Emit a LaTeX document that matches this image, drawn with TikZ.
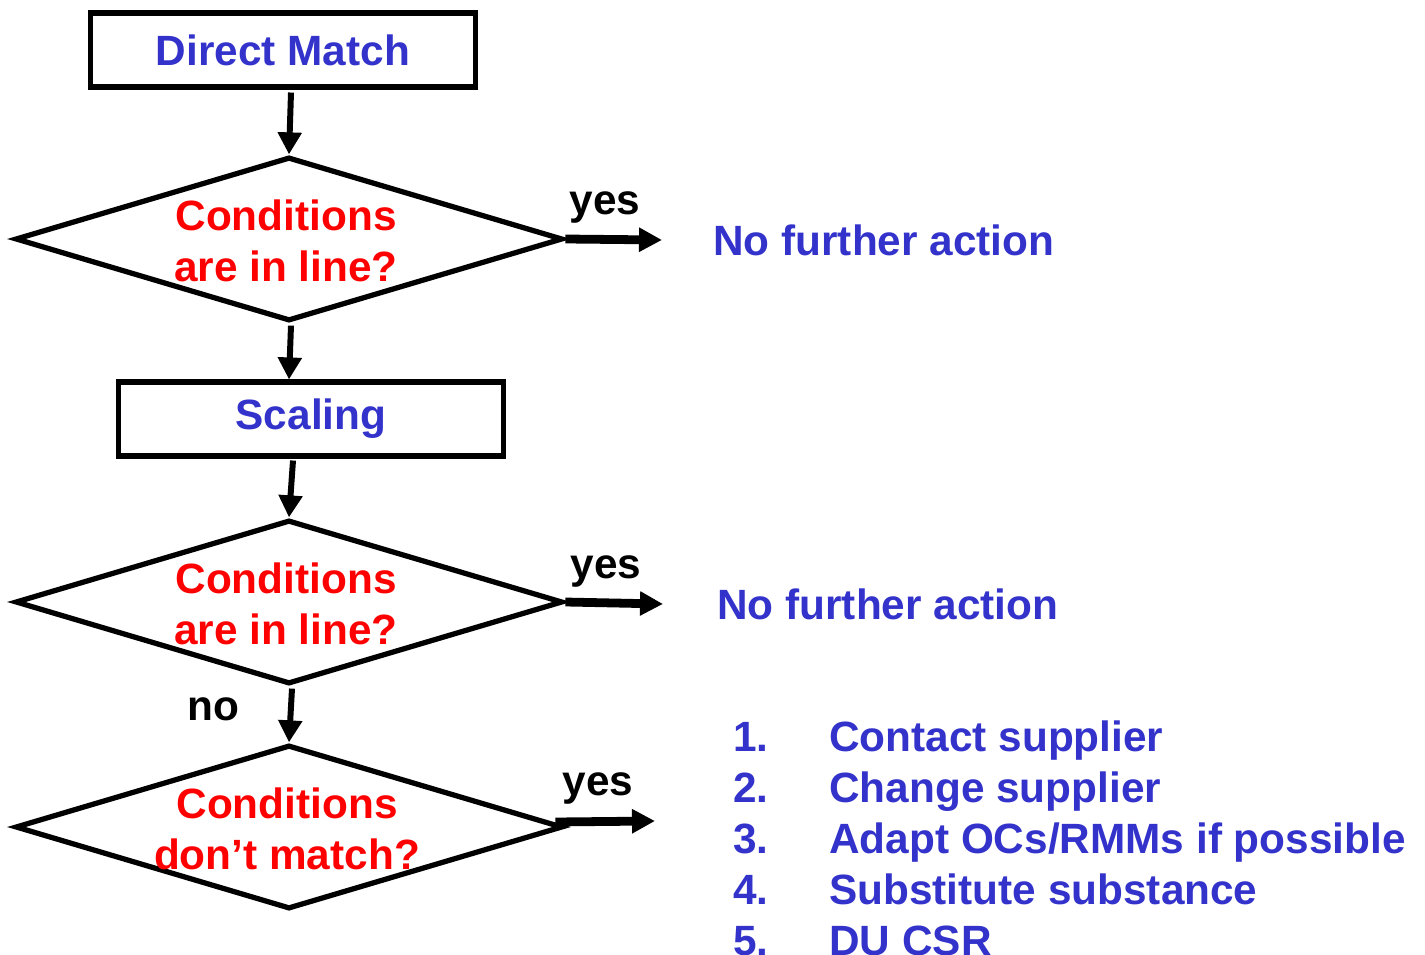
\documentclass[tikz,border=0pt]{standalone}
\usepackage{fontspec}
\setmainfont{Liberation Sans}
\usetikzlibrary{shapes.geometric,arrows.meta,calc}
\definecolor{stepblue}{RGB}{51,51,204}
\definecolor{condred}{RGB}{255,0,0}

\begin{document}
\begin{tikzpicture}[x=0.02cm,y=-0.02cm,
  every node/.style={font=\fontsize{24.1}{28.9}\selectfont\bfseries,inner sep=0pt},
  procbox/.style={draw,line width=2.9pt,minimum width=7.7cm,minimum height=1.48cm,text=stepblue},
  decision/.style={draw,diamond,line width=3pt,minimum width=10.95cm,minimum height=3.28cm},
  condtext/.style={align=center,text=condred},
  answer/.style={anchor=base,text=black},
  action/.style={anchor=base west,text=stepblue},
  downarrow/.style={line width=3.4pt,-{Triangle[length=0.44cm,width=0.46cm]}},
  rightarrow/.style={line width=5pt,-{Triangle[length=0.46cm,width=0.46cm]}}]
\useasboundingbox (0,0) rectangle (1425,955);

% flow
\node[procbox] (box1) at (283,50) {Direct Match};
\node[decision] (d1) at (289,239) {};
\node[condtext] (c1) at (286,241) {Conditions\\are in line?};
\node[procbox] (box2) at (311,419) {Scaling};
\node[decision] (d2) at (289,602) {};
\node[condtext] (c2) at (286,604) {Conditions\\are in line?};
\node[decision] (d3) at (289,827) {};
\node[condtext] (c3) at (287,829) {Conditions\\don’t match?};

\draw[downarrow] ($(box1.south)+(8,3)$) -- (d1.north);
\draw[downarrow] ($(d1.south)+(2,2)$) -- ($(box2.north)+(-22,0)$);
\draw[downarrow] ($(box2.south)+(-18,2)$) -- (d2.north);
\draw[downarrow] ($(d2.south)+(3,2)$) -- (d3.north);
\node[answer] (no1) at (213,720) {no};

% yes branches
\coordinate (yes1end) at (662,240);
\coordinate (yes2end) at (663,604);
\coordinate (yes3end) at (655,821);
\draw[rightarrow] (d1.east) -- (yes1end);
\draw[rightarrow] (d2.east) -- (yes2end);
\draw[rightarrow] ($(d3.east)+(-10,-5)$) -- (yes3end);
\node[answer] (yes1) at (605,215) {yes};
\node[answer] (yes2) at (606,578) {yes};
\node[answer] (yes3) at (598,795) {yes};

% actions
\node[action] (act1) at (713,256) {No further action};
\node[action] (act2) at (717,619) {No further action};
\node[action] (n1) at (733,751) {1.};
\node[action] (n2) at (733,802) {2.};
\node[action] (n3) at (733,853) {3.};
\node[action] (n4) at (733,904) {4.};
\node[action] (n5) at (733,955) {5.};
\node[action] (i1) at (829,751) {Contact supplier};
\node[action] (i2) at (829,802) {Change supplier};
\node[action] (i3) at (829,853) {Adapt OCs/RMMs if possible};
\node[action] (i4) at (829,904) {Substitute substance};
\node[action] (i5) at (829,955) {DU CSR};
\end{tikzpicture}
\end{document}
